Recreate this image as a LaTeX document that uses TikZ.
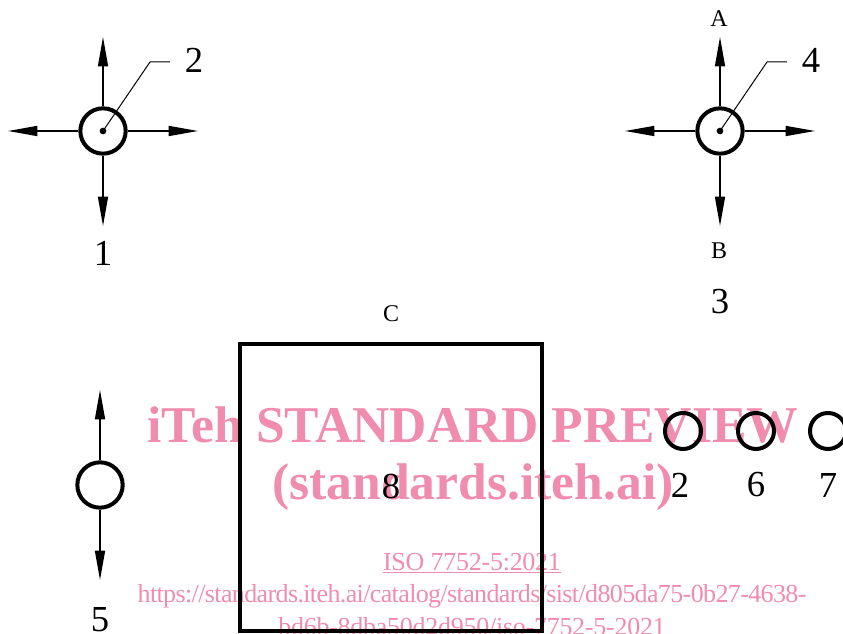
\documentclass[tikz,border=0pt]{standalone}
\usepackage{fontspec}
\setmainfont{Liberation Serif}
\newfontfamily\urlf[LetterSpace=-2.4]{Liberation Serif}
\newfontfamily\isof[LetterSpace=-1]{Liberation Serif}
\usetikzlibrary{arrows.meta}
\definecolor{wm}{HTML}{F08CAE}
\tikzset{
 x=0.75pt,y=-0.75pt,
 arr/.style={line width=1.1pt,black,-{Triangle[length=22pt,width=7.5pt]}},
 circ/.style={circle,draw=black,line width=3pt,minimum size=34pt,inner sep=0pt},
 sqr/.style={draw=black,line width=3pt,fill=none},
 lead/.style={line width=0.75pt,black},
 dotn/.style={circle,fill=black,minimum size=5pt,inner sep=0pt},
 lab/.style={font=\fontsize{27.5}{27.5}\selectfont,black,inner sep=0pt},
 slab/.style={font=\fontsize{18}{18}\selectfont,black,inner sep=0pt},
 wmb/.style={font=\bfseries\fontsize{38.7}{38.7}\selectfont,text=wm,inner sep=0pt},
 wms/.style={text=wm,inner sep=0pt}
}
\begin{document}
\begin{tikzpicture}
\useasboundingbox (0,0) rectangle (843,634);
\clip (0,0) rectangle (843,634);
% watermark
\node[wmb] (w1t) at (473,425) {iTeh STANDARD PREVIEW};
\node[wmb] (w2t) at (473,487) {(standards.iteh.ai)};
\node[wms,font=\isof\fontsize{19.5}{19.5}\selectfont] (w3t) at (472,563) {\underline{ISO 7752-5:2021}};
\node[wms,font=\urlf\fontsize{19.5}{19.5}\selectfont] (w4t) at (472,596) {https://standards.iteh.ai/catalog/standards/sist/d805da75-0b27-4638-};
\node[wms,font=\isof\fontsize{19.5}{19.5}\selectfont] (w5t) at (472,627) {bd6b-8dba50d2d950/iso-7752-5-2021};
% left cross
\node[circ] (c1) at (103,131) {};
\node[dotn] (d1) at (103,131) {};
\coordinate (n1) at (103,37); \coordinate (s1) at (103,226);
\coordinate (w1) at (8,131); \coordinate (e1) at (198,131);
\draw[arr] (c1) -- (n1); \draw[arr] (c1) -- (s1); \draw[arr] (c1) -- (w1); \draw[arr] (c1) -- (e1);
\coordinate (k1) at (150,62); \coordinate (k1b) at (170,62);
\draw[lead] (d1.center) -- (k1) -- (k1b);
\node[lab] (l2a) at (194,60) {2};
\node[lab] (l1) at (103,253) {1};
% right cross
\node[circ] (c2) at (720,131) {};
\node[dotn] (d2) at (720,131) {};
\coordinate (n2) at (720,37); \coordinate (s2) at (720,226);
\coordinate (w2) at (625,131); \coordinate (e2) at (815,131);
\draw[arr] (c2) -- (n2); \draw[arr] (c2) -- (s2); \draw[arr] (c2) -- (w2); \draw[arr] (c2) -- (e2);
\coordinate (k2) at (767,62); \coordinate (k2b) at (787,62);
\draw[lead] (d2.center) -- (k2) -- (k2b);
\node[lab] (l4) at (811,60) {4};
\node[slab] (la) at (719,19) {A};
\node[slab] (lb) at (719,251) {B};
\node[lab] (l3) at (720,302) {3};
\node[slab] (lc) at (391,314) {C};
% lower left
\node[circ] (c3) at (100,485) {};
\coordinate (n3) at (100,390); \coordinate (s3) at (100,580);
\draw[arr] (c3) -- (n3); \draw[arr] (c3) -- (s3);
\node[lab] (l5) at (100,620) {5};
% square
\node[sqr,minimum width=226.5pt,minimum height=214.5pt] (sq) at (390.5,487.5) {};
\node[lab] (l8) at (391,486) {8};
% small circles
\node[circ,minimum size=27pt] (c4) at (683,431) {};
\node[circ,minimum size=27pt] (c5) at (756,431) {};
\node[circ,minimum size=27pt] (c6) at (828,431) {};
\node[lab] (l2b) at (680,485) {2};
\node[lab] (l6) at (756,485) {6};
\node[lab] (l7) at (828,485) {7};
\end{tikzpicture}
\end{document}
